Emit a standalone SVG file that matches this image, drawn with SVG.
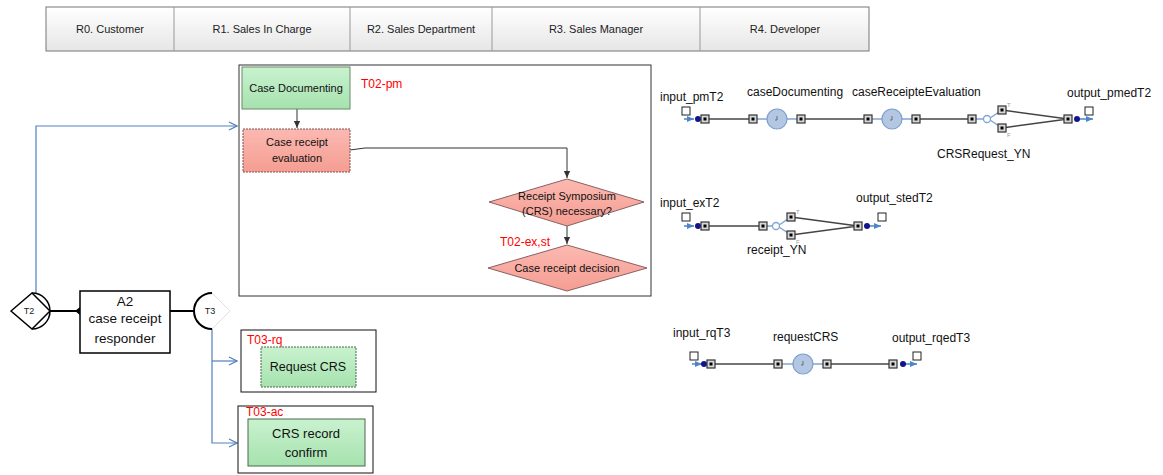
<svg xmlns="http://www.w3.org/2000/svg" width="1163" height="475" viewBox="0 0 1163 475">
<defs>
<linearGradient id="hdr" x1="0" y1="0" x2="0" y2="1"><stop offset="0" stop-color="#ffffff"/><stop offset="1" stop-color="#e6e6e6"/></linearGradient>
<linearGradient id="grn" x1="0" y1="0" x2="0" y2="1"><stop offset="0" stop-color="#c9f2cf"/><stop offset="1" stop-color="#a6e2ae"/></linearGradient>
<linearGradient id="red" x1="0" y1="0" x2="0" y2="1"><stop offset="0" stop-color="#fbb9b1"/><stop offset="1" stop-color="#f59d92"/></linearGradient>
<marker id="open" viewBox="0 0 10 10" refX="9" refY="5" markerWidth="10" markerHeight="10" markerUnits="userSpaceOnUse" orient="auto"><path d="M1,1 L9,5 L1,9" fill="none" stroke="#4f81bd" stroke-width="1.2"/></marker>
<marker id="blk" viewBox="0 0 10 10" refX="9" refY="5" markerWidth="8" markerHeight="8" markerUnits="userSpaceOnUse" orient="auto"><path d="M0,1 L9,5 L0,9 Z" fill="#333"/></marker>
<marker id="dia" viewBox="0 0 10 10" refX="5" refY="5" markerWidth="10" markerHeight="10" markerUnits="userSpaceOnUse" orient="auto"><path d="M0,5 L5,1 L10,5 L5,9 Z" fill="#000"/></marker>
<marker id="barr" viewBox="0 0 10 10" refX="9" refY="5" markerWidth="8" markerHeight="8" markerUnits="userSpaceOnUse" orient="auto"><path d="M0,1 L9,5 L0,9 Z" fill="#4a86c8"/></marker>
<g id="pl"><rect x="-4" y="-4" width="8" height="8" fill="#d8d8d8" stroke="#333" stroke-width="1.2"/><rect x="-1.5" y="-1.5" width="3" height="3" fill="#000"/></g>
<g id="tr"><circle r="10" fill="#b4c7e2" stroke="#7d9fcc" stroke-width="1.2"/><path d="M0,-3 L0,1 L-2,1" fill="none" stroke="#555" stroke-width="0.8"/></g>
<g id="sq"><rect x="0" y="0" width="8" height="8" fill="#fff" stroke="#222" stroke-width="1"/></g>
</defs>
<style>
.hd{font-family:"Liberation Sans",Arial,sans-serif;font-size:11px;fill:#222;text-anchor:middle}
.fc{font-family:"Liberation Sans",Arial,sans-serif;font-size:11px;fill:#111;text-anchor:middle}
.lb{font-family:"Liberation Sans",Arial,sans-serif;font-size:12px;fill:#ff0000}
.pn{font-family:"Liberation Sans",Arial,sans-serif;font-size:12px;fill:#111}
.bl{fill:none;stroke:#4f81bd;stroke-width:1.2}
.gl{fill:none;stroke:#444;stroke-width:1.5}
.bln{fill:none;stroke:#7fa3d3;stroke-width:1.5}
.ar{fill:none;stroke:#333;stroke-width:1}
</style>

<g id="header">
<rect x="46" y="7" width="823" height="44" fill="url(#hdr)" stroke="#777" stroke-width="1"/>
<line x1="174" y1="7" x2="174" y2="51" stroke="#999"/>
<line x1="350" y1="7" x2="350" y2="51" stroke="#999"/>
<line x1="492" y1="7" x2="492" y2="51" stroke="#999"/>
<line x1="700" y1="7" x2="700" y2="51" stroke="#999"/>
<text class="hd" x="110" y="33">R0. Customer</text>
<text class="hd" x="262" y="33">R1. Sales In Charge</text>
<text class="hd" x="421" y="33">R2. Sales Department</text>
<text class="hd" x="596" y="33">R3. Sales Manager</text>
<text class="hd" x="785" y="33">R4. Developer</text>
</g>

<g id="connectors">
<path class="bl" d="M36,294 L36,126 L237,126" marker-end="url(#open)"/>
<path class="bl" d="M212,329 L212,443 L237,443" marker-end="url(#open)"/>
<path class="bl" d="M212,361 L237,361" marker-end="url(#open)"/>
<line x1="50" y1="311" x2="80" y2="311" stroke="#000" stroke-width="2" marker-end="url(#dia)"/>
<line x1="170" y1="311" x2="194" y2="311" stroke="#000" stroke-width="2"/>
<path class="ar" d="M297,109 L297,128" marker-end="url(#blk)"/>
<path class="ar" d="M350,150 L365,148 L567,148 L567,178" marker-end="url(#blk)"/>
<path class="ar" d="M567,226 L567,244" marker-end="url(#blk)"/>
</g>

<g id="T2">
<path d="M11,311 L32,293 L50,311 L32,329 Z" fill="#fff" stroke="#000" stroke-width="1.5"/>
<path d="M32,293 A18,18 0 0 1 32,329" fill="none" stroke="#000" stroke-width="1.5"/>
<text x="29" y="314" font-family="Liberation Sans, Arial, sans-serif" font-size="9" text-anchor="middle" fill="#222">T2</text>
</g>

<g id="A2">
<rect x="80" y="291" width="90" height="62" fill="#fff" stroke="#000" stroke-width="1.5"/>
<text x="125" y="306" font-family="Liberation Sans, Arial, sans-serif" font-size="13.5" text-anchor="middle" fill="#111">A2</text>
<text x="125" y="323" font-family="Liberation Sans, Arial, sans-serif" font-size="13.5" text-anchor="middle" fill="#111">case receipt</text>
<text x="125" y="343" font-family="Liberation Sans, Arial, sans-serif" font-size="13.5" text-anchor="middle" fill="#111">responder</text>
</g>

<g id="T3">
<path d="M212,293 L230,311 L212,329" fill="none" stroke="#e0e0e0" stroke-width="1"/>
<path d="M212,293 A18,18 0 0 0 212,329" fill="none" stroke="#000" stroke-width="2"/>
<text x="210" y="314" font-family="Liberation Sans, Arial, sans-serif" font-size="9" text-anchor="middle" fill="#222">T3</text>
</g>

<g id="T02-box">
<rect x="239" y="65" width="412" height="231" fill="none" stroke="#333" stroke-width="1"/>
<text class="lb" x="361" y="88">T02-pm</text>
<text class="lb" x="500" y="246">T02-ex,st</text>
</g>

<g id="case-documenting">
<rect x="242" y="67" width="108" height="42" fill="url(#grn)" stroke="#6a8a6a" stroke-width="1"/>
<text class="fc" x="296" y="92">Case Documenting</text>
</g>

<g id="case-receipt-evaluation">
<rect x="243" y="129" width="107" height="43" fill="url(#red)" stroke="#7a5050" stroke-width="1" stroke-dasharray="2,1"/>
<text class="fc" x="297" y="146">Case receipt</text>
<text class="fc" x="297" y="162">evaluation</text>
</g>

<g id="receipt-symposium">
<path d="M567,179 L644,202 L567,226 L489,202 Z" fill="url(#red)" stroke="#8a6060" stroke-width="1"/>
<text class="fc" x="567" y="200">Receipt Symposium</text>
<text class="fc" x="567" y="215">(CRS) necessary?</text>
</g>

<g id="case-receipt-decision">
<path d="M567,245 L647,268 L567,291 L488,268 Z" fill="url(#red)" stroke="#8a6060" stroke-width="1"/>
<text class="fc" x="567" y="272">Case receipt decision</text>
</g>

<g id="T03-rq">
<rect x="241" y="330" width="135" height="62" fill="#fff" stroke="#111" stroke-width="1"/>
<text class="lb" x="247" y="344">T03-rq</text>
<rect x="261" y="347" width="95" height="40" fill="url(#grn)" stroke="#4a6a4a" stroke-width="1" stroke-dasharray="2,1"/>
<text x="308" y="371" font-family="Liberation Sans, Arial, sans-serif" font-size="12.5" text-anchor="middle" fill="#111">Request CRS</text>
</g>

<g id="T03-ac">
<rect x="238" y="406" width="135" height="67" fill="#fff" stroke="#111" stroke-width="1"/>
<text class="lb" x="246" y="416">T03-ac</text>
<rect x="248" y="419" width="117" height="47" fill="url(#grn)" stroke="#4a6a4a" stroke-width="1"/>
<text x="306" y="438" font-family="Liberation Sans, Arial, sans-serif" font-size="13" text-anchor="middle" fill="#111">CRS record</text>
<text x="306" y="457" font-family="Liberation Sans, Arial, sans-serif" font-size="13" text-anchor="middle" fill="#111">confirm</text>
</g>

<g id="net-pm">
<text class="pn" x="660" y="101">input_pmT2</text>
<text class="pn" x="747" y="96">caseDocumenting</text>
<text class="pn" x="852" y="96">caseReceipteEvaluation</text>
<text class="pn" x="1067" y="97">output_pmedT2</text>
<text class="pn" x="937" y="158">CRSRequest_YN</text>
<use href="#sq" x="682" y="107"/>
<use href="#sq" x="1085" y="107"/>
<line x1="684" y1="119" x2="694" y2="119" stroke="#4a86c8" stroke-width="1.5" marker-end="url(#barr)"/>
<circle cx="698" cy="119" r="3" fill="#14148a"/>
<line class="gl" x1="705" y1="119" x2="753" y2="119"/>
<line class="bln" x1="753" y1="119" x2="801" y2="119"/>
<line class="gl" x1="801" y1="119" x2="868" y2="119"/>
<line class="bln" x1="868" y1="119" x2="916" y2="119"/>
<line class="gl" x1="916" y1="119" x2="972" y2="119"/>
<line class="bln" x1="972" y1="119" x2="984" y2="119"/>
<path class="bln" d="M990,118 L1002,110 M990,120 L1002,128"/>
<path class="gl" d="M1002,110 L1068,119 L1002,128"/>
<line x1="1077" y1="119" x2="1093" y2="119" stroke="#4a86c8" stroke-width="1.5" marker-end="url(#barr)"/>
<circle cx="1077" cy="119" r="3" fill="#14148a"/>
<use href="#pl" x="705" y="119"/>
<use href="#pl" x="753" y="119"/>
<use href="#tr" x="777" y="119"/>
<use href="#pl" x="801" y="119"/>
<use href="#pl" x="868" y="119"/>
<use href="#tr" x="892" y="119"/>
<use href="#pl" x="916" y="119"/>
<use href="#pl" x="972" y="119"/>
<circle cx="987" cy="119" r="3.5" fill="#fff" stroke="#7fa3d3" stroke-width="1.3"/>
<use href="#pl" x="1002" y="110"/>
<use href="#pl" x="1002" y="128"/>
<use href="#pl" x="1068" y="119"/>
<text x="1007" y="107" font-family="Liberation Sans, Arial, sans-serif" font-size="6" fill="#999">T</text>
<text x="1007" y="137" font-family="Liberation Sans, Arial, sans-serif" font-size="6" fill="#999">F</text>
</g>

<g id="net-ex">
<text class="pn" x="660" y="207">input_exT2</text>
<text class="pn" x="856" y="202">output_stedT2</text>
<text class="pn" x="747" y="254">receipt_YN</text>
<use href="#sq" x="682" y="213"/>
<use href="#sq" x="878" y="213"/>
<line x1="684" y1="226" x2="694" y2="226" stroke="#4a86c8" stroke-width="1.5" marker-end="url(#barr)"/>
<circle cx="698" cy="226" r="3" fill="#14148a"/>
<line class="gl" x1="705" y1="226" x2="763" y2="226"/>
<line class="bln" x1="763" y1="226" x2="773" y2="226"/>
<path class="bln" d="M779,225 L791,217 M779,227 L791,235"/>
<path class="gl" d="M791,217 L858,226 L791,235"/>
<line x1="867" y1="226" x2="881" y2="226" stroke="#4a86c8" stroke-width="1.5" marker-end="url(#barr)"/>
<circle cx="867" cy="226" r="3" fill="#14148a"/>
<use href="#pl" x="705" y="226"/>
<use href="#pl" x="763" y="226"/>
<circle cx="776" cy="226" r="3.5" fill="#fff" stroke="#7fa3d3" stroke-width="1.3"/>
<use href="#pl" x="791" y="217"/>
<use href="#pl" x="791" y="235"/>
<use href="#pl" x="858" y="226"/>
<text x="796" y="214" font-family="Liberation Sans, Arial, sans-serif" font-size="6" fill="#999">T</text>
<text x="796" y="244" font-family="Liberation Sans, Arial, sans-serif" font-size="6" fill="#999">F</text>
</g>

<g id="net-rq">
<text class="pn" x="673" y="337">input_rqT3</text>
<text class="pn" x="773" y="341">requestCRS</text>
<text class="pn" x="892" y="342">output_rqedT3</text>
<use href="#sq" x="690" y="352"/>
<use href="#sq" x="913" y="352"/>
<line x1="692" y1="364" x2="702" y2="364" stroke="#4a86c8" stroke-width="1.5" marker-end="url(#barr)"/>
<circle cx="704" cy="364" r="3" fill="#14148a"/>
<line class="gl" x1="711" y1="364" x2="778" y2="364"/>
<line class="bln" x1="778" y1="364" x2="827" y2="364"/>
<line class="gl" x1="827" y1="364" x2="893" y2="364"/>
<line x1="903" y1="364" x2="917" y2="364" stroke="#4a86c8" stroke-width="1.5" marker-end="url(#barr)"/>
<circle cx="903" cy="364" r="3" fill="#14148a"/>
<use href="#pl" x="711" y="364"/>
<use href="#pl" x="778" y="364"/>
<use href="#tr" x="803" y="364"/>
<use href="#pl" x="827" y="364"/>
<use href="#pl" x="893" y="364"/>
</g>
</svg>
